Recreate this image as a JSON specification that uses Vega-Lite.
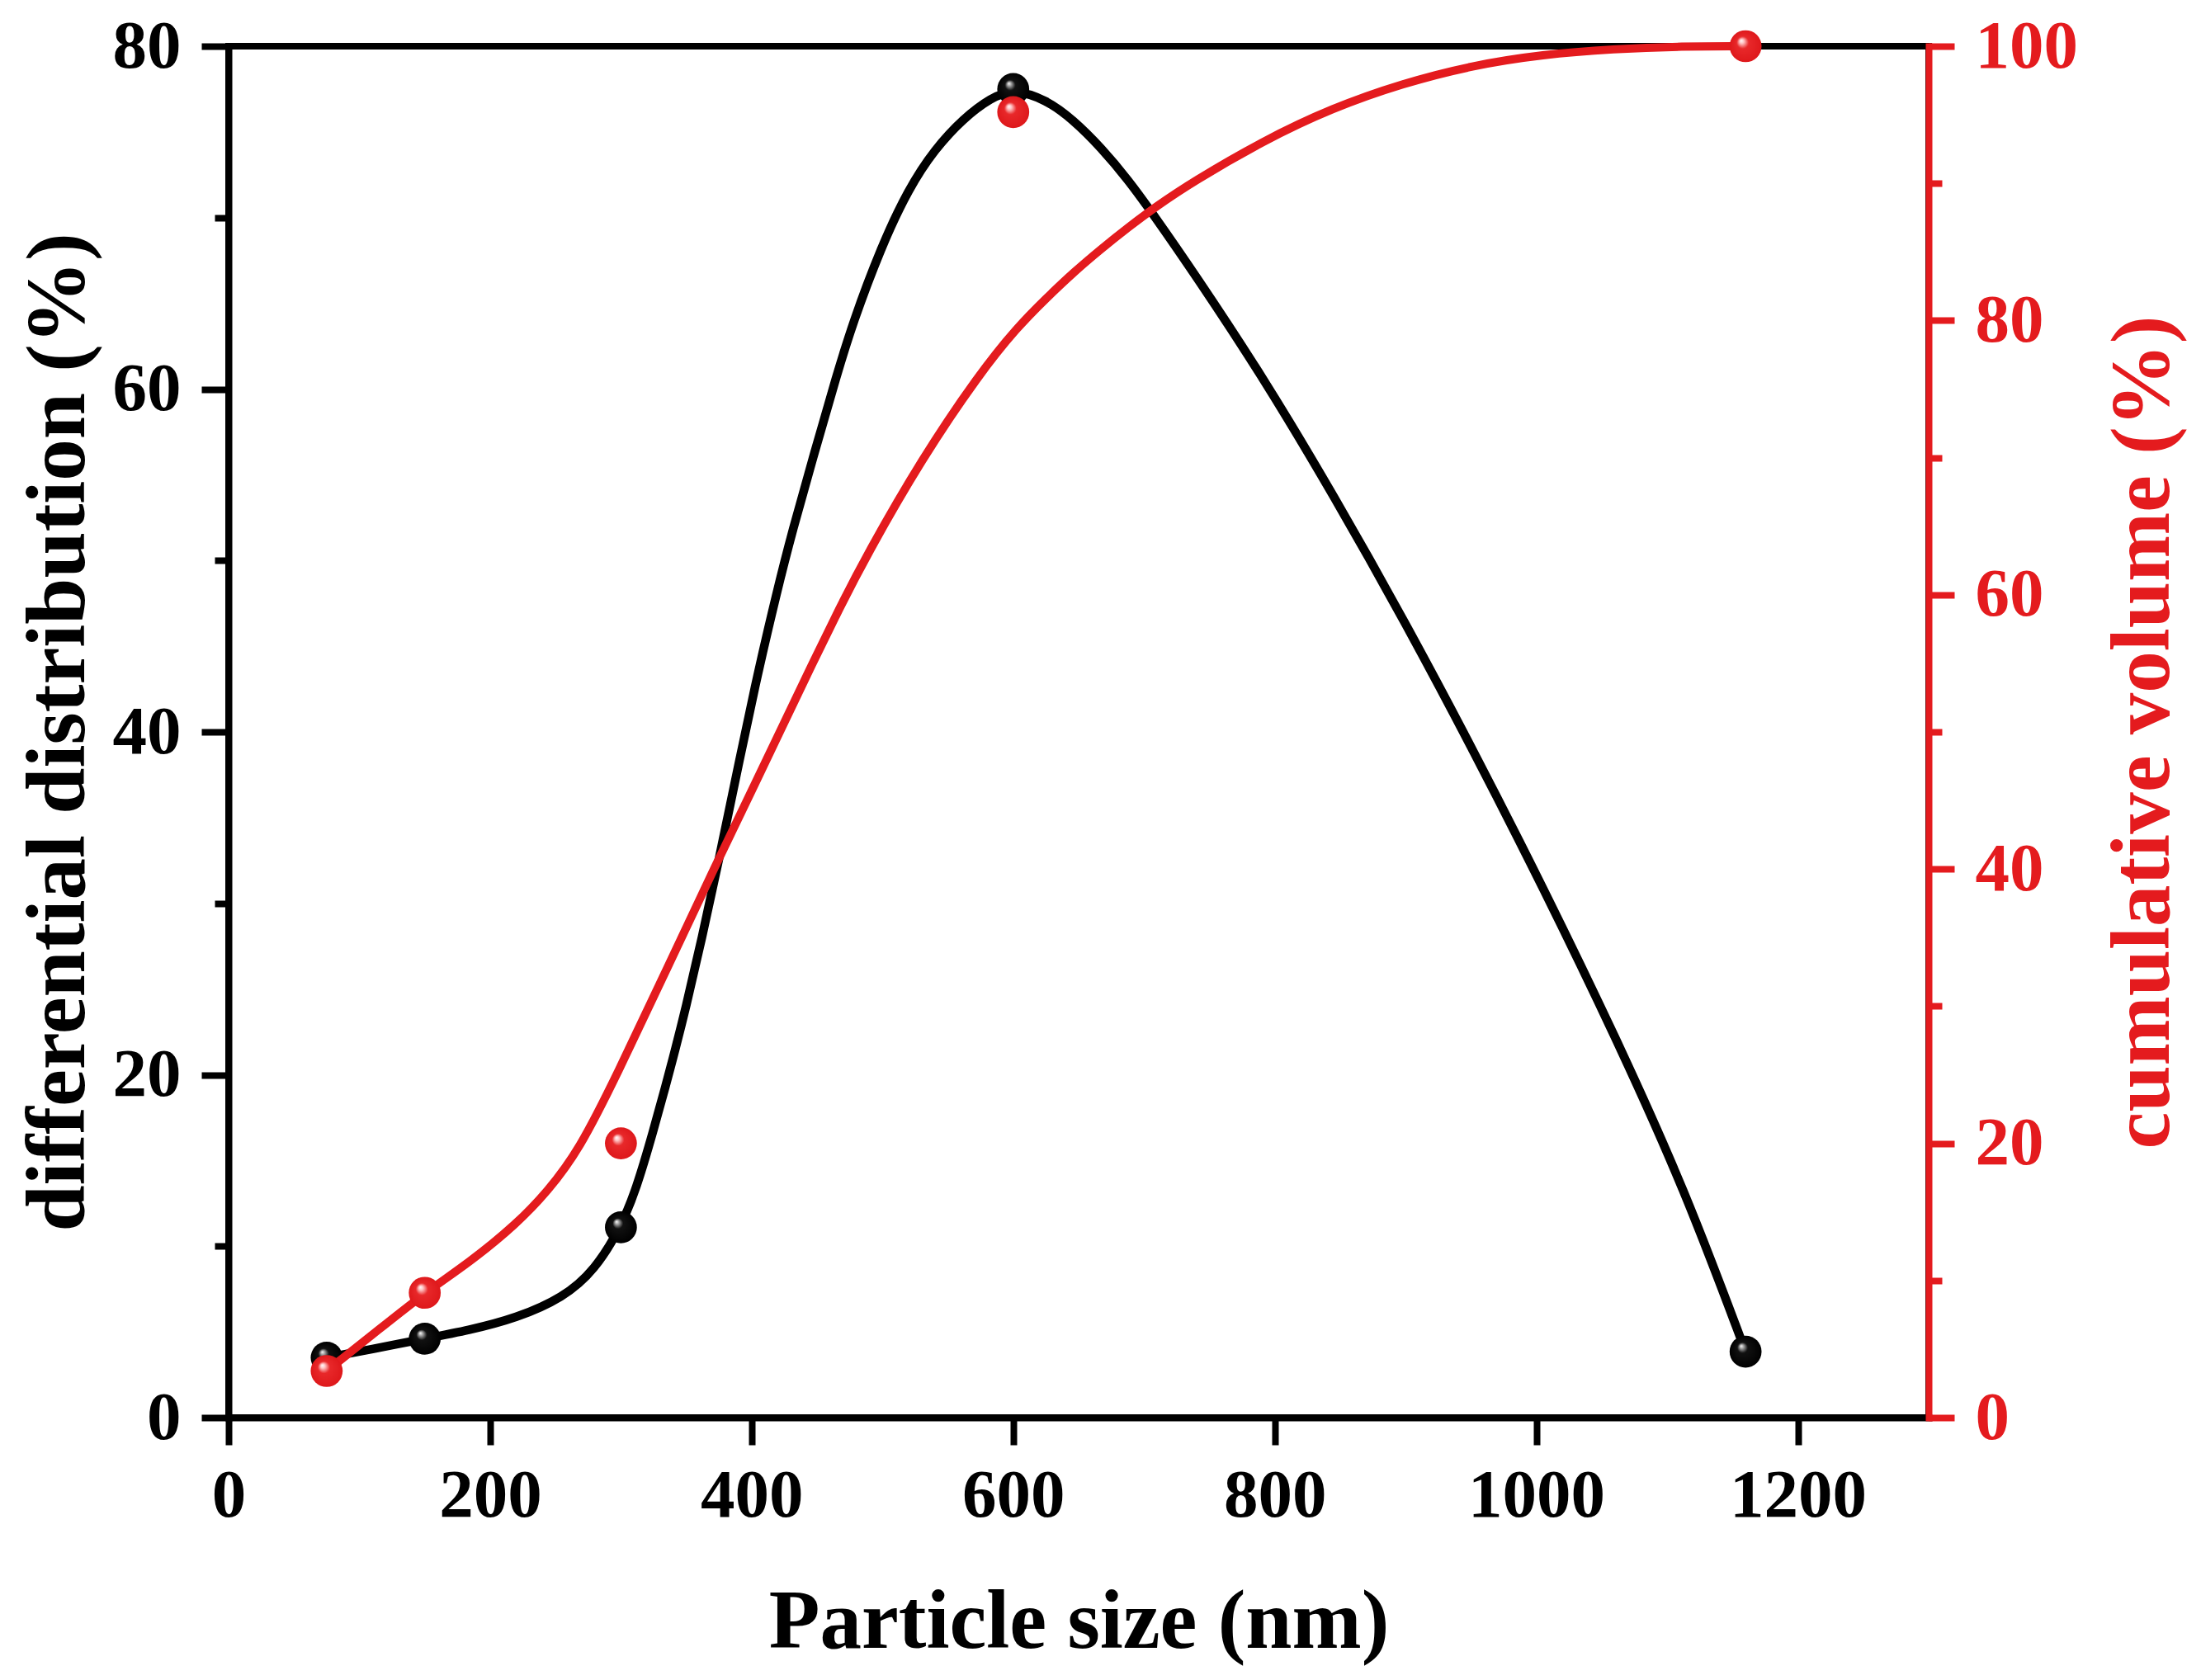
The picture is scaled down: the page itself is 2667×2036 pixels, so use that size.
{
  "$schema": "https://vega.github.io/schema/vega-lite/v6.json",
  "width": 2060,
  "height": 1662,
  "autosize": {"type": "none"},
  "padding": {"left": 277, "top": 56, "right": 330, "bottom": 318},
  "background": "white",
  "config": {
    "view": {"stroke": "black", "strokeWidth": 8},
    "font": "Liberation Serif",
    "axis": {
      "grid": false,
      "domainWidth": 8,
      "tickWidth": 8,
      "domainCap": "square",
      "labelFont": "Liberation Serif",
      "labelFontWeight": "bold",
      "labelFontSize": 83,
      "labelFlush": false,
      "labelOverlap": false,
      "labelLimit": 500,
      "format": "d",
      "titleFont": "Liberation Serif",
      "titleFontWeight": "bold",
      "titleFontSize": 101
    }
  },
  "datasets": {
    "diffPts": [
      {"size": 75, "diff": 3.5},
      {"size": 150, "diff": 4.6},
      {"size": 300, "diff": 11.1},
      {"size": 600, "diff": 77.5},
      {"size": 1160, "diff": 3.85}
    ],
    "diffCurve": [
      {"size": 75, "diff": 3.5},
      {"size": 110, "diff": 4.0},
      {"size": 150, "diff": 4.6},
      {"size": 184, "diff": 5.1},
      {"size": 220, "diff": 5.8},
      {"size": 256, "diff": 7.0},
      {"size": 280, "diff": 8.6},
      {"size": 300, "diff": 11.1},
      {"size": 312, "diff": 13.4},
      {"size": 324, "diff": 16.5},
      {"size": 338, "diff": 20.4},
      {"size": 350, "diff": 24.0},
      {"size": 362, "diff": 28.0},
      {"size": 374, "diff": 32.2},
      {"size": 391, "diff": 38.5},
      {"size": 404, "diff": 43.2},
      {"size": 419, "diff": 48.1},
      {"size": 431, "diff": 51.7},
      {"size": 448, "diff": 56.3},
      {"size": 465, "diff": 60.8},
      {"size": 477, "diff": 63.8},
      {"size": 499, "diff": 68.3},
      {"size": 520, "diff": 71.7},
      {"size": 540, "diff": 74.0},
      {"size": 562, "diff": 75.8},
      {"size": 583, "diff": 77.0},
      {"size": 600, "diff": 77.5},
      {"size": 625, "diff": 76.9},
      {"size": 646, "diff": 75.7},
      {"size": 667, "diff": 74.1},
      {"size": 688, "diff": 72.2},
      {"size": 707, "diff": 70.2},
      {"size": 738, "diff": 66.8},
      {"size": 791, "diff": 60.7},
      {"size": 845, "diff": 53.8},
      {"size": 899, "diff": 46.5},
      {"size": 952, "diff": 38.9},
      {"size": 1006, "diff": 30.8},
      {"size": 1060, "diff": 22.3},
      {"size": 1113, "diff": 13.4},
      {"size": 1160, "diff": 3.85}
    ],
    "cumPts": [
      {"size": 75, "cum": 3.4},
      {"size": 150, "cum": 9.1},
      {"size": 300, "cum": 20.0},
      {"size": 600, "cum": 95.2},
      {"size": 1160, "cum": 100}
    ],
    "cumCurve": [
      {"size": 75, "cum": 3.4},
      {"size": 112, "cum": 6.2},
      {"size": 150, "cum": 9.1},
      {"size": 184, "cum": 11.3},
      {"size": 220, "cum": 14.1},
      {"size": 244, "cum": 16.5},
      {"size": 268, "cum": 19.5},
      {"size": 297, "cum": 25.0},
      {"size": 335, "cum": 32.7},
      {"size": 372, "cum": 40.2},
      {"size": 404, "cum": 46.5},
      {"size": 425, "cum": 50.7},
      {"size": 446, "cum": 54.9},
      {"size": 467, "cum": 59.0},
      {"size": 488, "cum": 62.9},
      {"size": 530, "cum": 69.9},
      {"size": 574, "cum": 76.1},
      {"size": 603, "cum": 79.5},
      {"size": 625, "cum": 81.6},
      {"size": 646, "cum": 83.5},
      {"size": 667, "cum": 85.2},
      {"size": 688, "cum": 86.8},
      {"size": 709, "cum": 88.3},
      {"size": 737, "cum": 90.1},
      {"size": 791, "cum": 93.1},
      {"size": 844, "cum": 95.5},
      {"size": 898, "cum": 97.3},
      {"size": 951, "cum": 98.6},
      {"size": 1005, "cum": 99.4},
      {"size": 1059, "cum": 99.8},
      {"size": 1112, "cum": 100},
      {"size": 1160, "cum": 100}
    ]
  },
  "layer": [
    {
      "layer": [
        {
          "data": {"name": "diffCurve"},
          "mark": {"type": "line", "color": "black", "strokeWidth": 10.5, "interpolate": "basis"},
          "encoding": {
            "x": {
              "field": "size", "type": "quantitative",
              "scale": {"domain": [0, 1300], "nice": false, "zero": false},
              "axis": {
                "values": [0, 200, 400, 600, 800, 1000, 1200],
                "tickSize": 33,
                "labelPadding": 20,
                "domainColor": "black", "tickColor": "black", "labelColor": "black",
                "title": "Particle size (nm)", "titleColor": "black", "titlePadding": 62
              }
            },
            "y": {
              "field": "diff", "type": "quantitative",
              "scale": {"domain": [0, 80], "nice": false},
              "axis": {
                "orient": "left",
                "values": [0, 10, 20, 30, 40, 50, 60, 70, 80],
                "labelExpr": "datum.value % 20 === 0 ? datum.label : ''",
                "tickSize": {"condition": {"test": "datum.value % 20 === 0", "value": 33}, "value": 17},
                "labelPadding": 25,
                "domainColor": "black", "tickColor": "black", "labelColor": "black",
                "title": "differential distribution (%)", "titleColor": "black", "titlePadding": 14
              }
            }
          }
        },
        {
          "data": {"name": "diffPts"},
          "mark": {
            "type": "circle", "size": 1500, "opacity": 1,
            "fill": {
              "gradient": "radial",
              "x1": 0.36, "y1": 0.32, "r1": 0,
              "x2": 0.5, "y2": 0.5, "r2": 0.5,
              "stops": [
                {"offset": 0, "color": "#ffffff"},
                {"offset": 0.12, "color": "#a8a8a8"},
                {"offset": 0.33, "color": "#111111"},
                {"offset": 1, "color": "#000000"}
              ]
            }
          },
          "encoding": {
            "x": {"field": "size", "type": "quantitative"},
            "y": {"field": "diff", "type": "quantitative"}
          }
        }
      ]
    },
    {
      "layer": [
        {
          "data": {"name": "cumCurve"},
          "mark": {"type": "line", "color": "#e41b1e", "strokeWidth": 10, "interpolate": "basis"},
          "encoding": {
            "x": {"field": "size", "type": "quantitative"},
            "y": {
              "field": "cum", "type": "quantitative",
              "scale": {"domain": [0, 100], "nice": false},
              "axis": {
                "orient": "right",
                "values": [0, 10, 20, 30, 40, 50, 60, 70, 80, 90, 100],
                "labelExpr": "datum.value % 20 === 0 ? datum.label : ''",
                "tickSize": {"condition": {"test": "datum.value % 20 === 0", "value": 31}, "value": 16},
                "labelPadding": 25,
                "domainColor": "#e41b1e", "tickColor": "#e41b1e", "labelColor": "#e41b1e",
                "title": "cumulative volume (%)", "titleColor": "#e41b1e",
                "titleAngle": 270, "titleBaseline": "top", "titlePadding": 30
              }
            }
          }
        },
        {
          "data": {"name": "cumPts"},
          "mark": {
            "type": "circle", "size": 1500, "opacity": 1,
            "fill": {
              "gradient": "radial",
              "x1": 0.36, "y1": 0.32, "r1": 0,
              "x2": 0.5, "y2": 0.5, "r2": 0.5,
              "stops": [
                {"offset": 0, "color": "#ffffff"},
                {"offset": 0.14, "color": "#ffc4c4"},
                {"offset": 0.38, "color": "#e8282a"},
                {"offset": 1, "color": "#de181b"}
              ]
            }
          },
          "encoding": {
            "x": {"field": "size", "type": "quantitative"},
            "y": {"field": "cum", "type": "quantitative"}
          }
        },
        {
          "mark": {"type": "rule", "color": "black", "strokeWidth": 8},
          "encoding": {"y": {"datum": 100}}
        }
      ]
    }
  ],
  "resolve": {"scale": {"y": "independent"}}
}
